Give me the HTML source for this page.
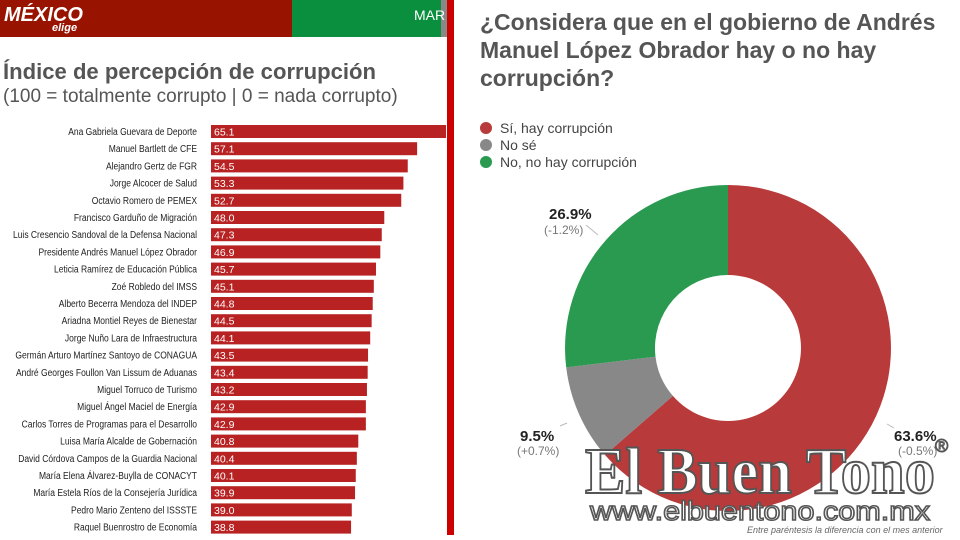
<!DOCTYPE html>
<html><head><meta charset="utf-8"><style>
body{margin:0;width:960px;height:535px;overflow:hidden;background:#fff;font-family:"Liberation Sans",sans-serif}
</style></head><body>
<svg width="960" height="535" xmlns="http://www.w3.org/2000/svg" font-family="Liberation Sans, sans-serif">
<rect x="0" y="0" width="292" height="37" fill="#981300"/>
<rect x="292" y="0" width="149" height="37" fill="#0a8f3e"/>
<rect x="441" y="0" width="6" height="37" fill="#888"/>
<text x="4" y="21" font-size="20" font-weight="bold" fill="#fff" font-style="italic">MÉXICO</text>
<text x="52" y="31" font-size="11" font-weight="bold" fill="#fff" font-style="italic">elige</text>
<text x="414" y="20" font-size="14" fill="#fff">MAR</text>
<rect x="447" y="0" width="7" height="535" fill="#cc0000"/>
<text x="3" y="79" font-size="22" font-weight="bold" fill="#555" textLength="373" lengthAdjust="spacingAndGlyphs">Índice de percepción de corrupción</text>
<text x="3" y="102" font-size="19" fill="#555">(100 = totalmente corrupto | 0 = nada corrupto)</text>
<g id="lab" transform="scale(0.85,1)"></g>
<g id="bars"></g>
<text x="480" y="30" font-size="23" font-weight="bold" fill="#555">¿Considera que en el gobierno de Andrés</text>
<text x="480" y="58" font-size="23" font-weight="bold" fill="#555">Manuel López Obrador hay o no hay</text>
<text x="480" y="86" font-size="23" font-weight="bold" fill="#555">corrupción?</text>
<circle cx="486" cy="128" r="6" fill="#b83a3a"/><text x="500" y="133" font-size="14" fill="#444">Sí, hay corrupción</text>
<circle cx="486" cy="145" r="6" fill="#888"/><text x="500" y="150" font-size="14" fill="#444">No sé</text>
<circle cx="486" cy="162" r="6" fill="#2a9a50"/><text x="500" y="167" font-size="14" fill="#444">No, no hay corrupción</text>
<path d="M728,185 A163,163 0 1 1 605,455 L672.9,395.9 A73,73 0 1 0 728,275 Z" fill="#b83a3a"/>
<path d="M605,455 A163,163 0 0 1 566.2,367.4 L655.5,356.7 A73,73 0 0 0 672.9,395.9 Z" fill="#888"/>
<path d="M566.2,367.4 A163,163 0 0 1 728,185 L728,275 A73,73 0 0 0 655.5,356.7 Z" fill="#2a9a50"/>
<text x="549" y="219" font-size="15" font-weight="bold" fill="#222">26.9%</text>
<text x="544" y="234" font-size="12" fill="#777">(-1.2%)</text>
<line x1="586" y1="225" x2="598" y2="235" stroke="#bbb"/>
<text x="520" y="441" font-size="15" font-weight="bold" fill="#222">9.5%</text>
<text x="517" y="455" font-size="12" fill="#777">(+0.7%)</text>
<line x1="560" y1="426" x2="567" y2="423" stroke="#bbb"/>
<text x="894" y="441" font-size="15" font-weight="bold" fill="#222">63.6%</text>
<text x="898" y="455" font-size="12" fill="#777">(-0.5%)</text>
<line x1="887" y1="424" x2="894" y2="428" stroke="#bbb"/>
<text x="585" y="493" font-size="66" font-family="Liberation Serif, serif" font-weight="bold" fill="#fff" stroke="#555" stroke-width="2" textLength="350" lengthAdjust="spacingAndGlyphs">El Buen Tono</text>
<text x="935" y="452" font-size="18" fill="#fff" stroke="#555" stroke-width="1">®</text>
<text x="590" y="520" font-size="27" fill="#fff" stroke="#555" stroke-width="1.5" textLength="340" lengthAdjust="spacingAndGlyphs">www.elbuentono.com.mx</text>
<text x="747" y="533" font-size="9" font-style="italic" fill="#666">Entre paréntesis la diferencia con el mes anterior</text>
</svg>
<script>
var d=[["Ana Gabriela Guevara de Deporte",65.1],["Manuel Bartlett de CFE",57.1],["Alejandro Gertz de FGR",54.5],["Jorge Alcocer de Salud",53.3],["Octavio Romero de PEMEX",52.7],["Francisco Garduño de Migración",48.0],["Luis Cresencio Sandoval de la Defensa Nacional",47.3],["Presidente Andrés Manuel López Obrador",46.9],["Leticia Ramírez de Educación Pública",45.7],["Zoé Robledo del IMSS",45.1],["Alberto Becerra Mendoza del INDEP",44.8],["Ariadna Montiel Reyes de Bienestar",44.5],["Jorge Nuño Lara de Infraestructura",44.1],["Germán Arturo Martínez Santoyo de CONAGUA",43.5],["André Georges Foullon Van Lissum de Aduanas",43.4],["Miguel Torruco de Turismo",43.2],["Miguel Ángel Maciel de Energía",42.9],["Carlos Torres de Programas para el Desarrollo",42.9],["Luisa María Alcalde de Gobernación",40.8],["David Córdova Campos de la Guardia Nacional",40.4],["María Elena Álvarez-Buylla de CONACYT",40.1],["María Estela Ríos de la Consejería Jurídica",39.9],["Pedro Mario Zenteno del ISSSTE",39.0],["Raquel Buenrostro de Economía",38.8]];
var h="",l="";
for(var i=0;i<d.length;i++){var y=125+i*17.2,w=d[i][1]*3.61;
l+='<text x="'+(197/0.85)+'" y="'+(y+10)+'" text-anchor="end" font-size="10" fill="#222">'+d[i][0]+'</text>';
h+='<rect x="211" y="'+y+'" width="'+w+'" height="13" fill="#b82222"/>';
h+='<text x="214" y="'+(y+10.5)+'" font-size="10.5" fill="#fff">'+d[i][1].toFixed(1)+'</text>';}
document.getElementById("bars").innerHTML=h;
document.getElementById("lab").innerHTML=l;
</script>
</body></html>
